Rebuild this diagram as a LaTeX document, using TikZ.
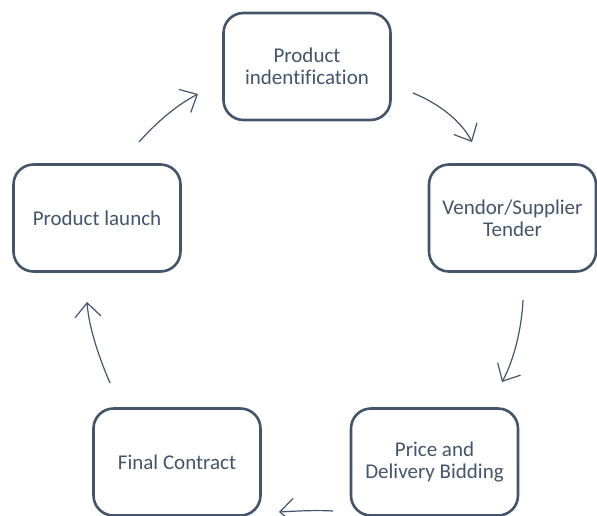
\documentclass[tikz,border=0pt]{standalone}
\usepackage{fontspec}
\setmainfont{Carlito}[Ligatures=CommonOff]
\usetikzlibrary{arrows.meta}
\definecolor{slate}{HTML}{44546A}
\begin{document}
\begin{tikzpicture}[x=1pt,y=-1pt,
  stage/.style={draw=slate, line width=2.6pt, rounded corners=20pt,
    minimum width=167pt, minimum height=107pt, inner sep=0pt,
    align=center, text=slate, font=\fontsize{21}{22}\selectfont},
  flow/.style={draw=slate, line width=1.2pt,
    -{Straight Barb[length=14pt,width=26pt,line width=1.2pt]}}]
\useasboundingbox (0,0) rectangle (597,515);
\clip (0,0) rectangle (597,515);
\node[stage] (ident) at (307,66.5) {Product\\indentification};
\node[stage] (vendor) at (512.5,218) {Vendor/Supplier\\Tender};
\node[stage] (price) at (434.5,462) {Price and\\Delivery Bidding};
\node[stage] (final) at (177,462) {Final Contract};
\node[stage] (launch) at (97,218) {Product launch};
\coordinate (a1s) at (413,93);  \coordinate (a1e) at (472,142);
\coordinate (a2s) at (523,300); \coordinate (a2e) at (502,382);
\coordinate (a3s) at (333,511); \coordinate (a3e) at (279,512);
\coordinate (a4s) at (110,383); \coordinate (a4e) at (87,302);
\coordinate (a5s) at (139,142); \coordinate (a5e) at (198,94);
\draw[flow] (a1s) .. controls (440,104) and (462,122) .. (a1e);
\draw[flow] (a2s) .. controls (522,325) and (515,358) .. (a2e);
\draw[flow] (a3s) .. controls (315,510) and (297,511) .. (a3e);
\draw[flow] (a4s) .. controls (101,362) and (89,330) .. (a4e);
\draw[flow] (a5s) .. controls (155,124) and (175,106) .. (a5e);
\end{tikzpicture}
\end{document}
